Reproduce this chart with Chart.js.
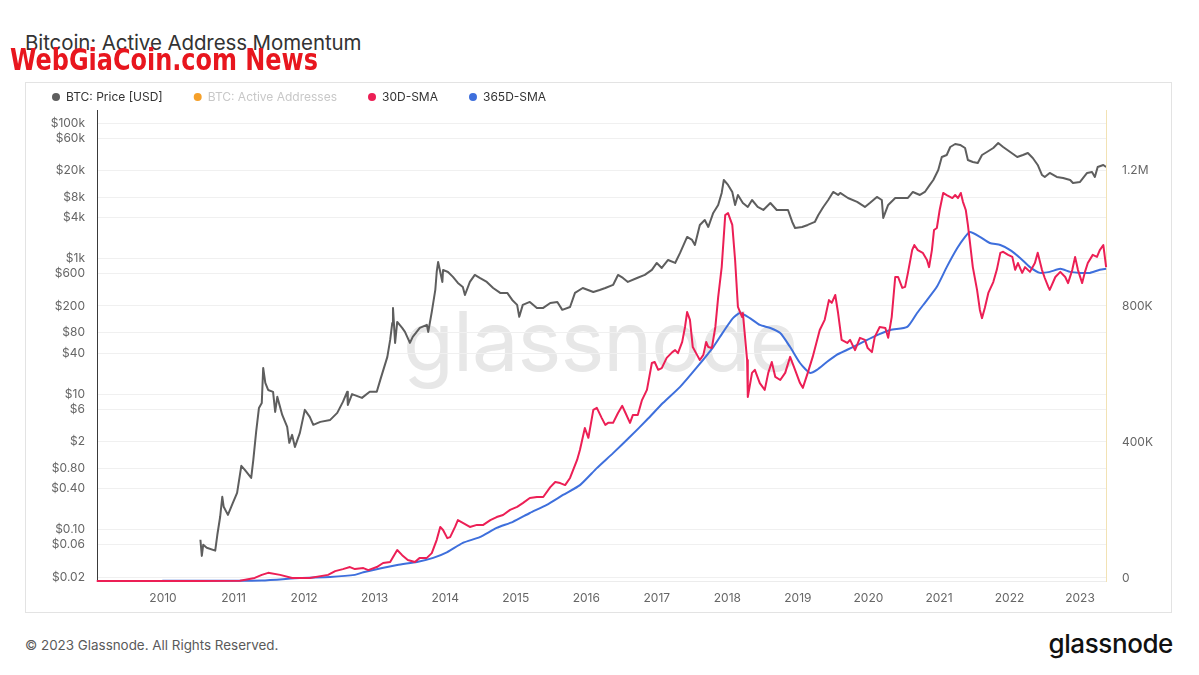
<!DOCTYPE html>
<html>
<head>
<meta charset="utf-8">
<script src="https://cdn.jsdelivr.net/npm/chart.js@4.4.1/dist/chart.umd.min.js"></script>
<style>
  html, body { margin:0; padding:0; background:#fff; }
  body { width:1199px; height:675px; position:relative; overflow:hidden; font-family: Inter, "Noto Sans", sans-serif; }
  #title { position:absolute; left:25px; top:31px; font-size:20.5px; line-height:24px; color:#333; white-space:nowrap; letter-spacing:-0.1px; }
  #box { position:absolute; left:25px; top:82px; width:1147px; height:531px; border:1px solid #e3e3e3; box-sizing:border-box; }
  #wm { position:absolute; left:403px; top:300px; font-size:83px; line-height:83px; color:#e7e7e7; white-space:nowrap; letter-spacing:-1px; }
  #c { position:absolute; left:21px; top:60px; }
  #wgc { position:absolute; left:10px; top:44px; font-family:"Liberation Sans Narrow","DejaVu Sans Condensed","Liberation Sans",sans-serif; font-weight:bold; font-size:31px; line-height:31px; color:#e8161e; white-space:nowrap; transform-origin:0 0; }
  #foot { position:absolute; left:25px; top:636px; font-size:13.4px; line-height:18px; color:#5a5a5a; white-space:nowrap; }
  #logo { position:absolute; right:26px; top:628px; font-size:26px; line-height:32px; color:#111; font-weight:500; white-space:nowrap; letter-spacing:-0.4px; }
</style>
</head>
<body>
<div id="title">Bitcoin: Active Address Momentum</div>
<div id="box"></div>
<div id="wm">glassnode</div>
<canvas id="c" width="1152" height="554"></canvas>
<div id="wgc">WebGiaCoin.com News</div>
<div id="foot">© 2023 Glassnode. All Rights Reserved.</div>
<div id="logo">glassnode</div>
<script>
// ---- data ----
const seriesNames = ['BTC: Price [USD]', 'BTC: Active Addresses', '30D-SMA', '365D-SMA'];
const yearTicks = [2010, 2011, 2012, 2013, 2014, 2015, 2016, 2017, 2018, 2019, 2020, 2021, 2022, 2023];
const priceTicks = [0.02, 0.06, 0.1, 0.4, 0.8, 2, 6, 10, 40, 80, 200, 600, 1000, 4000, 8000, 20000, 60000, 100000];
const priceTickLabels = ['$0.02','$0.06','$0.10','$0.40','$0.80','$2','$6','$10','$40','$80','$200','$600','$1k','$4k','$8k','$20k','$60k','$100k'];
const addrTicksK = [0, 400, 800, 1200];
const addrTickLabels = ['0', '400K', '800K', '1.2M'];

// BTC price [year, USD]
const btcPrice = [
 [2010.53,0.071],[2010.55,0.041],[2010.57,0.060],[2010.62,0.054],[2010.74,0.049],[2010.77,0.084],[2010.81,0.155],
 [2010.84,0.305],[2010.86,0.217],[2010.92,0.165],[2010.99,0.248],[2011.05,0.349],[2011.11,0.873],[2011.16,0.762],
 [2011.25,0.581],[2011.28,1.07],[2011.32,2.77],[2011.36,6.25],[2011.40,7.41],[2011.42,24.3],[2011.45,14.6],
 [2011.49,11.5],[2011.56,10.8],[2011.59,5.46],[2011.62,9.1],[2011.69,4.93],[2011.76,3.28],[2011.79,1.91],
 [2011.83,2.50],[2011.87,1.66],[2011.94,2.68],[2012.01,5.85],[2012.08,4.61],[2012.13,3.52],[2012.23,3.89],
 [2012.37,4.16],[2012.47,5.28],[2012.55,7.67],[2012.61,10.8],[2012.62,6.93],[2012.68,10.0],[2012.82,8.79],
 [2012.93,10.8],[2013.03,10.8],[2013.08,16.2],[2013.18,35.4],[2013.22,63],[2013.25,112],[2013.26,187],
 [2013.29,56.9],[2013.32,116],[2013.39,94.6],[2013.43,82.6],[2013.50,56.9],[2013.54,69.8],[2013.64,94.6],
 [2013.74,105],[2013.76,82.6],[2013.81,163],[2013.86,344],[2013.88,634],[2013.90,891],[2013.96,452],
 [2013.97,679],[2014.04,634],[2014.11,536],[2014.18,437],[2014.25,381],[2014.28,290],[2014.35,452],
 [2014.42,573],[2014.49,517],[2014.59,452],[2014.68,368],[2014.78,311],[2014.88,311],[2014.95,245],
 [2015.02,207],[2015.05,138],[2015.10,207],[2015.20,229],[2015.30,187],[2015.39,187],[2015.49,221],
 [2015.59,229],[2015.66,175],[2015.77,193],[2015.84,311],[2015.95,368],[2016.10,321],[2016.19,344],
 [2016.27,368],[2016.38,408],[2016.45,573],[2016.52,517],[2016.59,452],[2016.72,517],[2016.83,573],
 [2016.93,679],[2017.00,861],[2017.07,727],[2017.16,953],[2017.26,861],[2017.33,1211],[2017.43,2084],
 [2017.50,1881],[2017.54,1589],[2017.61,3133],[2017.68,3707],[2017.73,2924],[2017.80,4710],[2017.87,6180],
 [2017.92,9290],[2017.95,14420],[2018.01,12190],[2018.07,9600],[2018.11,6180],[2018.15,8670],[2018.22,6610],
 [2018.29,5770],[2018.35,7310],[2018.43,5770],[2018.51,5210],[2018.61,6610],[2018.70,5210],[2018.79,5210],
 [2018.86,5210],[2018.92,3467],[2018.96,2825],[2019.06,2924],[2019.14,3133],[2019.24,3467],[2019.29,4395],
 [2019.36,5770],[2019.43,7310],[2019.50,9600],[2019.57,8670],[2019.60,9290],[2019.71,7830],[2019.84,6840],
 [2019.95,5770],[2020.02,6610],[2020.12,8110],[2020.19,7310],[2020.21,3972],[2020.28,6180],[2020.38,7830],
 [2020.48,7830],[2020.56,7830],[2020.63,9600],[2020.73,8670],[2020.80,9600],[2020.87,12190],[2020.92,14420],
 [2020.99,20280],[2021.04,31550],[2021.11,33730],[2021.16,44260],[2021.23,48980],[2021.30,47420],[2021.37,42760],
 [2021.41,28470],[2021.48,26610],[2021.55,25700],[2021.61,33730],[2021.68,37330],[2021.77,42760],[2021.84,50700],
 [2021.91,44260],[2022.01,37330],[2022.11,31550],[2022.19,33730],[2022.26,36110],[2022.33,30480],[2022.40,24030],
 [2022.46,17100],[2022.50,16000],[2022.57,18320],[2022.67,16000],[2022.76,15450],[2022.86,14420],[2022.90,13030],
 [2023.00,13490],[2023.10,18320],[2023.17,18930],[2023.21,16000],[2023.25,22430],[2023.33,24030],[2023.37,22430]
];

// 30D-SMA of active addresses [year, thousands]
const sma30K = [
 [2009.06,0],[2010.50,0],[2011.09,1],[2011.30,9],[2011.40,18],[2011.49,24],[2011.66,18],[2011.83,9],[2012.08,9],
 [2012.34,18],[2012.44,29],[2012.55,35],[2012.65,41],[2012.72,35],[2012.84,38],[2012.91,32],[2013.03,41],
 [2013.12,53],[2013.22,56],[2013.32,91],[2013.39,76],[2013.47,62],[2013.57,56],[2013.64,68],[2013.74,68],
 [2013.81,82],[2013.88,121],[2013.93,159],[2013.97,150],[2014.03,126],[2014.07,129],[2014.14,159],[2014.18,179],
 [2014.25,171],[2014.35,159],[2014.45,165],[2014.54,165],[2014.64,179],[2014.73,188],[2014.82,194],[2014.92,209],
 [2015.02,218],[2015.10,229],[2015.20,244],[2015.30,247],[2015.39,247],[2015.49,276],[2015.56,291],[2015.63,288],
 [2015.70,282],[2015.77,303],[2015.87,356],[2015.91,385],[2015.98,450],[2016.03,421],[2016.10,503],[2016.15,509],
 [2016.22,479],[2016.27,459],[2016.31,465],[2016.38,465],[2016.45,494],[2016.51,515],[2016.55,497],[2016.62,465],
 [2016.66,488],[2016.73,488],[2016.79,532],[2016.86,562],[2016.93,641],[2016.97,644],[2017.02,621],[2017.07,626],
 [2017.14,656],[2017.22,673],[2017.26,679],[2017.30,670],[2017.36,703],[2017.40,747],[2017.43,791],[2017.47,768],
 [2017.51,688],[2017.57,665],[2017.61,650],[2017.66,665],[2017.70,703],[2017.73,688],[2017.78,685],[2017.83,747],
 [2017.87,835],[2017.92,923],[2017.97,1076],[2018.01,1082],[2018.07,1047],[2018.11,944],[2018.15,806],[2018.21,776],
 [2018.22,788],[2018.28,650],[2018.29,541],[2018.35,612],[2018.39,621],[2018.46,582],[2018.53,562],[2018.58,612],
 [2018.63,644],[2018.68,600],[2018.75,591],[2018.82,612],[2018.89,659],[2018.96,621],[2019.03,582],[2019.07,568],
 [2019.14,612],[2019.21,659],[2019.31,738],[2019.38,768],[2019.44,826],[2019.48,818],[2019.53,841],[2019.57,788],
 [2019.62,709],[2019.70,700],[2019.74,709],[2019.81,679],[2019.88,715],[2019.95,709],[2019.99,685],[2020.05,673],
 [2020.09,718],[2020.16,747],[2020.24,744],[2020.28,715],[2020.33,776],[2020.38,894],[2020.42,894],[2020.48,862],
 [2020.52,865],[2020.56,906],[2020.62,973],[2020.65,988],[2020.70,973],[2020.77,965],[2020.83,944],[2020.86,923],
 [2020.90,973],[2020.93,1032],[2020.97,1038],[2021.01,1091],[2021.06,1141],[2021.11,1135],[2021.19,1126],[2021.23,1135],
 [2021.27,1126],[2021.31,1141],[2021.34,1115],[2021.38,1091],[2021.41,1047],[2021.44,994],[2021.48,923],[2021.54,856],
 [2021.58,797],[2021.61,773],[2021.65,803],[2021.70,847],[2021.77,879],[2021.82,915],[2021.87,965],[2021.91,968],
 [2021.98,959],[2022.04,953],[2022.08,915],[2022.12,935],[2022.18,906],[2022.22,923],[2022.29,909],[2022.36,935],
 [2022.40,965],[2022.46,915],[2022.50,891],[2022.55,865],[2022.57,856],[2022.65,894],[2022.72,909],[2022.79,894],
 [2022.83,876],[2022.89,915],[2022.93,953],[2022.97,915],[2023.03,876],[2023.07,909],[2023.11,935],[2023.18,959],
 [2023.24,953],[2023.28,973],[2023.33,988],[2023.37,923]
];

// 365D-SMA of active addresses [year, thousands]
const sma365K = [
 [2009.99,0.5],[2011.40,1.5],[2011.94,9],[2012.37,12],[2012.72,18],[2012.84,26],[2013.32,47],[2013.60,56],
 [2013.83,68],[2014.03,85],[2014.25,112],[2014.49,129],[2014.73,156],[2014.96,174],[2015.20,200],[2015.44,224],
 [2015.67,253],[2015.91,282],[2016.15,332],[2016.38,376],[2016.62,424],[2016.86,474],[2017.09,524],[2017.33,571],
 [2017.57,629],[2017.80,688],[2017.94,732],[2018.08,773],[2018.18,788],[2018.32,773],[2018.46,753],[2018.61,744],
 [2018.75,729],[2018.89,688],[2019.03,641],[2019.17,612],[2019.27,621],[2019.41,644],[2019.55,665],[2019.70,680],
 [2019.84,694],[2020.07,718],[2020.31,738],[2020.55,747],[2020.69,788],[2020.83,826],[2020.97,865],[2021.11,923],
 [2021.26,979],[2021.37,1012],[2021.44,1026],[2021.58,1012],[2021.72,994],[2021.87,988],[2022.01,973],[2022.15,950],
 [2022.29,923],[2022.43,906],[2022.57,909],[2022.72,918],[2022.86,909],[2023.00,906],[2023.14,906],[2023.28,915],
 [2023.37,918]
];

const colors = ['#5e5e5e', '#f5a02a', '#ec1f55', '#3e6fdc'];

// ---- chart ----
const toXY = arr => arr.map(p => ({ x: p[0], y: p[1] }));
const FONT = 'Inter, "Noto Sans", sans-serif';

new Chart(document.getElementById('c'), {
  type: 'line',
  data: {
    datasets: [
      { label: seriesNames[0], data: toXY(btcPrice), yAxisID: 'yPrice', borderColor: colors[0], backgroundColor: colors[0], borderWidth: 2, pointRadius: 0, tension: 0, borderJoinStyle: 'round' },
      { label: seriesNames[1], data: [], yAxisID: 'yAddr', borderColor: colors[1], backgroundColor: colors[1], hidden: true, pointRadius: 0 },
      { label: seriesNames[2], data: toXY(sma30K), yAxisID: 'yAddr', borderColor: colors[2], backgroundColor: colors[2], borderWidth: 2, pointRadius: 0, tension: 0, clip: false, borderJoinStyle: 'round' },
      { label: seriesNames[3], data: toXY(sma365K), yAxisID: 'yAddr', borderColor: colors[3], backgroundColor: colors[3], borderWidth: 2, pointRadius: 0, tension: 0.2, clip: false }
    ]
  },
  options: {
    responsive: false,
    animation: false,
    events: [],
    layout: { padding: 0 },
    plugins: {
      tooltip: { enabled: false },
      legend: {
        position: 'top',
        align: 'start',
        maxHeight: 50,
        onClick: null,
        labels: {
          usePointStyle: true,
          pointStyleWidth: 8,
          boxHeight: 5.66,
          padding: 31,
          color: '#333',
          font: { family: FONT, size: 12 },
          generateLabels: (chart) => chart.data.datasets.map((ds, i) => ({
            text: ds.label,
            fillStyle: ds.borderColor,
            strokeStyle: ds.borderColor,
            lineWidth: 0,
            pointStyle: 'circle',
            hidden: false,
            datasetIndex: i,
            fontColor: i === 1 ? '#c8c8c8' : '#333'
          }))
        }
      }
    },
    scales: {
      x: {
        type: 'linear',
        min: 2009.064,
        max: 2023.368,
        afterBuildTicks: s => { s.ticks = yearTicks.map(v => ({ value: v })); },
        afterFit: s => { s.height = 33; },
        ticks: { autoSkip: false, maxRotation: 0, padding: 10, color: '#666', font: { family: FONT, size: 12 }, callback: v => String(v) },
        grid: { display: false, drawTicks: false },
        border: { display: true, color: '#ececec', width: 1 }
      },
      yPrice: {
        type: 'logarithmic',
        position: 'left',
        min: 0.01746,
        max: 155550,
        afterBuildTicks: s => { s.ticks = priceTicks.map(v => ({ value: v })); },
        afterFit: s => { s.width = 76; },
        ticks: { autoSkip: false, padding: 12, color: '#666', font: { family: FONT, size: 12 },
          callback: (v) => { const i = priceTicks.indexOf(v); return i >= 0 ? priceTickLabels[i] : ''; } },
        grid: { color: '#f0f0f0', drawTicks: false, lineWidth: 1 },
        border: { display: true, color: '#3a3a3a', width: 1 }
      },
      yAddr: {
        type: 'linear',
        position: 'right',
        min: 0,
        max: 1385,
        afterBuildTicks: s => { s.ticks = addrTicksK.map(v => ({ value: v })); },
        afterFit: s => { s.width = 67; },
        ticks: { autoSkip: false, padding: 16, labelOffset: -3, color: '#666', font: { family: FONT, size: 12 },
          callback: (v) => { const i = addrTicksK.indexOf(v); return i >= 0 ? addrTickLabels[i] : ''; } },
        grid: { display: false, drawTicks: false },
        border: { display: true, color: '#f2e2b4', width: 1 }
      }
    }
  }
});

// fit the red overlay caption to its width in the reference
const w = document.getElementById('wgc');
const ww = w.getBoundingClientRect().width;
w.style.transform = 'scaleX(' + (308 / ww) + ')';
</script>
</body>
</html>
